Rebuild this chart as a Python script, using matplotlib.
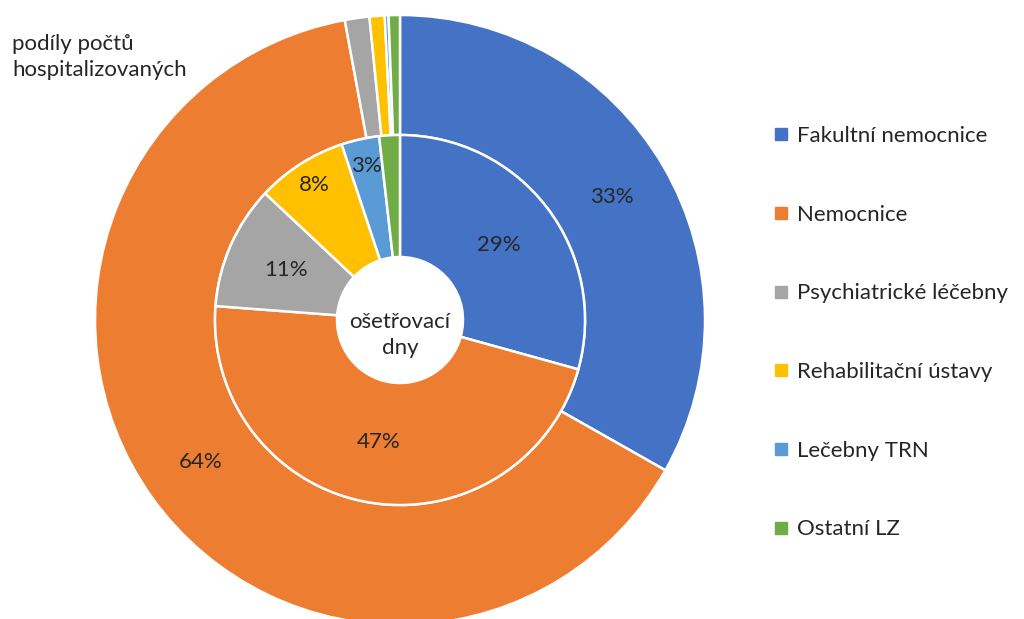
import matplotlib.pyplot as plt
import numpy as np
from matplotlib.lines import Line2D

plt.rcParams['font.family'] = ['Lato', 'DejaVu Sans']

# data
categories = ["Fakultní nemocnice", "Nemocnice", "Psychiatrické léčebny",
              "Rehabilitační ústavy", "Lečebny TRN", "Ostatní LZ"]
hospitalized = [33.2, 63.9, 1.3, 0.8, 0.2, 0.6]    # outer ring
care_days = [29.3, 46.9, 10.8, 7.9, 3.3, 1.8]       # inner ring
outer_labels = ["33%", "64%", "", "", "", ""]
inner_labels = ["29%", "47%", "11%", "8%", "3%", ""]
colors = ["#4472C4", "#ED7D31", "#A5A5A5", "#FFC000", "#5B9BD5", "#70AD47"]

W, H = 1024, 619
fig = plt.figure(figsize=(W / 100, H / 100), dpi=100)

# pie centre at pixel (400, 320) from top, outer radius 305 px
cx, cy, R = 400, 320, 305
ax = fig.add_axes([(cx - R) / W, (H - cy - R) / H, 2 * R / W, 2 * R / H])
ax.axis('off')

r_mid = 185 / 305
r_hole = 63 / 305
wp = dict(edgecolor='white', linewidth=1.8)

outer, _ = ax.pie(hospitalized, radius=1.0, colors=colors, startangle=90,
                  counterclock=False, wedgeprops=dict(width=1 - r_mid, **wp))
inner, _ = ax.pie(care_days, radius=r_mid, colors=colors, startangle=90,
                  counterclock=False, wedgeprops=dict(width=r_mid - r_hole, **wp))
ax.set_xlim(-1, 1)
ax.set_ylim(-1, 1)

txt_color = "#262626"
fs = 16


def put_labels(wedges, labels, radii):
    for w, lab, rr in zip(wedges, labels, radii):
        if not lab:
            continue
        ang = np.deg2rad((w.theta1 + w.theta2) / 2)
        ax.text(rr * np.cos(ang), rr * np.sin(ang), lab, ha='center', va='center',
                fontsize=fs, color=txt_color)


put_labels(outer, outer_labels, [245 / 305] * 6)
put_labels(inner, inner_labels, [124 / 305, 124 / 305, 124 / 305, 160 / 305, 158 / 305, 0])

ax.text(0, -15 / 305, "ošetřovací\ndny", ha='center', va='center', fontsize=fs,
        color=txt_color, linespacing=1.4)

fig.text(12 / W, 1 - 57 / H, "podíly počtů\nhospitalizovaných", ha='left', va='center',
         fontsize=fs, color=txt_color, linespacing=1.4)

handles = [Line2D([], [], marker='s', linestyle='none', markersize=8,
                  markerfacecolor=c, markeredgecolor=c) for c in colors]
fig.legend(handles, categories, loc='upper left', bbox_to_anchor=(753 / W, 1 - 106 / H),
           frameon=False, fontsize=fs, labelspacing=2.64, handlelength=0.7,
           handletextpad=0.4, labelcolor=txt_color)

fig.savefig("out.png", dpi=100)
